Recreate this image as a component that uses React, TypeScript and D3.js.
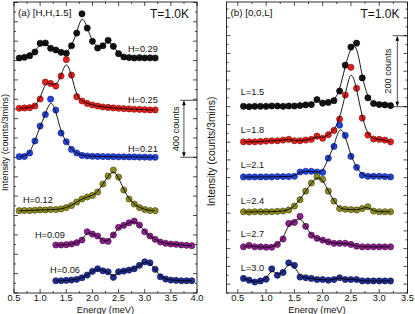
import React from "react";
import * as d3 from "d3";

const W = 415;
const H = 314;
const FONT = "'Liberation Sans', Arial, Helvetica, sans-serif";

// energies (meV)
const energyLow = [0.6, 0.7, 0.8, 0.9, 1.0, 1.1, 1.2, 1.3, 1.4, 1.5, 1.6, 1.7, 1.8, 1.9, 2.0, 2.1, 2.2, 2.3, 2.4, 2.5, 2.6, 2.7, 2.8, 2.9, 3.0, 3.1, 3.2];
const energyHigh = [1.3, 1.4, 1.5, 1.6, 1.7, 1.8, 1.9, 2.0, 2.1, 2.2, 2.3, 2.4, 2.5, 2.6, 2.7, 2.8, 2.9, 3.0, 3.1, 3.2, 3.3, 3.4, 3.5, 3.6, 3.7, 3.8, 3.9];

// panel (a) [H,H,1.5] counts/3mins
const h029 = [50, 55, 66, 92, 153, 155, 118, 106, 90, 83, 136, 225, 360, 260, 167, 120, 136, 174, 132, 80, 57, 53, 50, 52, 50, 51, 50];
const h025 = [62, 64, 66, 78, 127, 246, 236, 218, 288, 404, 295, 143, 113, 96, 85, 78, 71, 68, 64, 62, 59, 57, 55, 54, 52, 50, 50];
const h021 = [54, 56, 80, 164, 269, 350, 458, 381, 220, 159, 105, 80, 63, 59, 57, 56, 55, 54, 54, 53, 53, 52, 52, 51, 51, 50, 50];
const h012 = [50, 51, 51, 53, 55, 55, 58, 58, 62, 72, 86, 111, 132, 146, 157, 181, 237, 293, 335, 286, 195, 132, 97, 72, 58, 51, 50];
const h009 = [55, 55, 57, 62, 71, 90, 148, 132, 118, 85, 81, 125, 179, 193, 211, 223, 195, 148, 118, 95, 76, 67, 62, 60, 55, 53, 50];
const h006 = [50, 50, 53, 55, 60, 71, 90, 116, 134, 120, 113, 74, 113, 118, 125, 134, 158, 183, 176, 130, 78, 62, 55, 53, 50, 50, 50];
const offsetsA = [1600, 1235, 903, 528, 282, 36];
const labelsA = ["H=0.29", "H=0.25", "H=0.21", "H=0.12", "H=0.09", "H=0.06"];

// panel (b) [0,0,L]
const l15 = [31, 30, 31, 31, 31, 32, 32, 31, 32, 32, 33, 35, 36, 50, 40, 42, 47, 74, 147, 198, 209, 111, 55, 39, 36, 35, 33];
const l18 = [30, 30, 30, 31, 32, 33, 33, 35, 37, 33, 33, 35, 37, 46, 40, 50, 62, 94, 162, 240, 181, 97, 49, 38, 37, 35, 30];
const l21 = [30, 30, 30, 30, 30, 30, 31, 31, 31, 32, 44, 46, 46, 44, 43, 83, 116, 176, 147, 88, 57, 35, 32, 32, 32, 31, 30];
const l24 = [31, 30, 31, 31, 31, 31, 32, 33, 36, 47, 65, 89, 112, 130, 122, 89, 61, 40, 38, 37, 36, 40, 45, 33, 31, 31, 31];
const l27 = [31, 35, 31, 31, 30, 30, 38, 53, 97, 100, 117, 89, 64, 55, 50, 45, 41, 41, 41, 38, 33, 31, 31, 31, 31, 31, 31];
const l30 = [40, 35, 30, 33, 38, 67, 49, 57, 84, 77, 44, 42, 40, 37, 37, 35, 37, 42, 37, 37, 37, 33, 33, 33, 33, 33, 33];
const offsetsB = [470, 371, 272, 173, 74, -24];
const labelsB = ["L=1.5", "L=1.8", "L=2.1", "L=2.4", "L=2.7", "L=3.0"];

const xTicksA = [0.5, 1.0, 1.5, 2.0, 2.5, 3.0, 3.5, 4.0];
const xTicksB = [0.5, 1.0, 1.5, 2.0, 2.5, 3.0, 3.5];

const fills = ["#151515", "#e3201b", "#2444dc", "#8d8b22", "#8e1f8e", "#1f2d92"];
const strokes = ["#000", "#7a0a08", "#0d1f75", "#404000", "#420c42", "#0b1448"];

// layout
const TOP = 2;
const BOTTOM = 293;

type Series = { energy: number[]; values: number[]; offset: number; label: string; at: [number, number]; anchor: string };

type PanelProps = {
  left: number;
  right: number;
  xDomain: [number, number];
  yDomain: [number, number];
  yTicks: number[];
  isMajor: (v: number) => boolean;
  xTicks: number[];
  series: Series[];
  title: string;
  bar: { from: number; to: number; e: number; e0: number; text: string; textE: number };
  yLabel: { x: number; y: number; size: number };
};

function Panel(p: PanelProps) {
  const x = d3.scaleLinear().domain(p.xDomain).range([p.left, p.right]);
  const y = d3.scaleLinear().domain(p.yDomain).range([BOTTOM, TOP]);
  const line = d3
    .line<[number, number]>()
    .x((d) => x(d[0]))
    .y((d) => y(d[1]))
    .curve(d3.curveBasis);

  const minorX = d3.range(p.xTicks[0], p.xDomain[1] + 0.001, 0.25).filter((v) => v >= p.xDomain[0]);
  const yb0 = y(p.bar.from);
  const yb1 = y(p.bar.to);
  const xb = x(p.bar.e);

  return (
    <g>
      <rect x={p.left} y={TOP} width={p.right - p.left} height={BOTTOM - TOP} fill="none" stroke="#000" strokeWidth={0.8} />
      {p.yTicks.map((v) => {
        const len = p.isMajor(v) ? 4 : 2;
        const yy = y(v);
        return (
          <g key={"y" + v} stroke="#000" strokeWidth={0.7}>
            <line x1={p.left} x2={p.left + len} y1={yy} y2={yy} />
            <line x1={p.right} x2={p.right - len} y1={yy} y2={yy} />
          </g>
        );
      })}
      {minorX.map((v, i) => {
        const len = i % 2 === 0 ? 4 : 2;
        const xx = x(v);
        return (
          <g key={"x" + v} stroke="#000" strokeWidth={0.7}>
            <line x1={xx} x2={xx} y1={BOTTOM} y2={BOTTOM - len} />
            <line x1={xx} x2={xx} y1={TOP} y2={TOP + len} />
          </g>
        );
      })}
      {p.xTicks.map((v) => (
        <text key={"xl" + v} x={x(v)} y={301.3} textAnchor="middle" fontSize={9.3} fontFamily={FONT} fill="#111">
          {v.toFixed(1)}
        </text>
      ))}
      <text x={(p.left + p.right) / 2} y={312.6} textAnchor="middle" fontSize={9.3} fontFamily={FONT} fill="#111">
        Energy (meV)
      </text>
      <text
        transform={`translate(${p.yLabel.x},${p.yLabel.y}) rotate(-90)`}
        textAnchor="middle"
        fontSize={p.yLabel.size}
        fontFamily={FONT}
        fill="#111"
      >
        Intensity (counts/3mins)
      </text>
      <text x={p.left + 4} y={16} fontSize={9.8} fontFamily={FONT} fill="#111">
        {p.title}
      </text>
      <text x={p.right - 8} y={18} textAnchor="end" fontSize={12} fontFamily={FONT} fill="#111">
        T=1.0K
      </text>

      {/* scale bar */}
      <g stroke="#000" strokeWidth={0.7}>
        <line x1={x(p.bar.e0)} x2={p.right} y1={yb1} y2={yb1} />
        <line x1={x(p.bar.e0)} x2={p.right} y1={yb0} y2={yb0} />
        <line x1={xb} x2={xb} y1={yb1 + 4} y2={yb0 - 4} />
      </g>
      <path d={`M${xb},${yb1}L${xb - 1.8},${yb1 + 5}L${xb + 1.8},${yb1 + 5}Z`} fill="#000" />
      <path d={`M${xb},${yb0}L${xb - 1.8},${yb0 - 5}L${xb + 1.8},${yb0 - 5}Z`} fill="#000" />
      <text
        transform={`translate(${x(p.bar.textE)},${(yb0 + yb1) / 2}) rotate(-90)`}
        textAnchor="middle"
        fontSize={9.2}
        fontFamily={FONT}
        fill="#111"
      >
        {p.bar.text}
      </text>

      {p.series.map((s, i) =>
        s.values.map((v, j) => (
          <circle key={`d${i}-${j}`} cx={x(s.energy[j])} cy={y(v + s.offset)} r={3.1} fill={fills[i]} stroke={strokes[i]} strokeWidth={0.6} />
        ))
      )}
      {p.series.map((s, i) => (
        <path
          key={"l" + i}
          d={line(s.values.map((v, j) => [s.energy[j], v + s.offset] as [number, number])) || ""}
          fill="none"
          stroke="#000"
          strokeWidth={0.9}
        />
      ))}
      {p.series.map((s, i) => (
        <text key={"t" + i} x={x(s.at[0])} y={y(s.at[1])} textAnchor={s.anchor} fontSize={9.2} fontFamily={FONT} fill="#111">
          {s.label}
        </text>
      ))}
    </g>
  );
}

const labelPosA: [number, number][] = [[3.25, 1695], [3.25, 1332], [3.25, 992], [0.67, 634], [0.9, 384], [1.19, 138]];
const labelPosB: [number, number][] = [[0.553, 532], [0.553, 425], [0.553, 326], [0.553, 227], [0.553, 132], [0.553, 37]];

export default function App() {
  const valsA = [h029, h025, h021, h012, h009, h006];
  const energiesA = [energyLow, energyLow, energyLow, energyLow, energyHigh, energyHigh];
  const seriesA: Series[] = valsA.map((v, i) => ({
    energy: energiesA[i],
    values: v,
    offset: offsetsA[i],
    label: labelsA[i],
    at: labelPosA[i],
    anchor: i < 3 ? "end" : "start",
  }));
  const valsB = [l15, l18, l21, l24, l27, l30];
  const seriesB: Series[] = valsB.map((v, i) => ({
    energy: energyLow,
    values: v,
    offset: offsetsB[i],
    label: labelsB[i],
    at: labelPosB[i],
    anchor: "start",
  }));

  const yTicksA = d3.range(0, 2041, 68);
  const yTicksB = d3.range(-25, 796, 25);

  return (
    <svg width={W} height={H} style={{ position: "absolute", left: 0, top: 0, background: "#fff" }}>
      <Panel
        left={14}
        right={197}
        xDomain={[0.5, 4.0]}
        yDomain={[0, 2043]}
        yTicks={yTicksA}
        isMajor={(v) => v % 136 === 0}
        xTicks={xTicksA}
        series={seriesA}
        title="(a) [H,H,1.5]"
        bar={{ from: 953, to: 1353, e: 3.75, e0: 3.68, text: "400 counts", textE: 3.66 }}
        yLabel={{ x: 8.3, y: 142.5, size: 9.2 }}
      />
      <Panel
        left={226.5}
        right={407.5}
        xDomain={[0.3, 3.5]}
        yDomain={[-25, 795]}
        yTicks={yTicksB}
        isMajor={(v) => v % 50 === 0}
        xTicks={xTicksB}
        series={seriesB}
        title="(b) [0,0,L]"
        bar={{ from: 500, to: 700, e: 3.32, e0: 3.24, text: "200 counts", textE: 3.215 }}
        yLabel={{ x: 214.5, y: 151.5, size: 10.4 }}
      />
    </svg>
  );
}
